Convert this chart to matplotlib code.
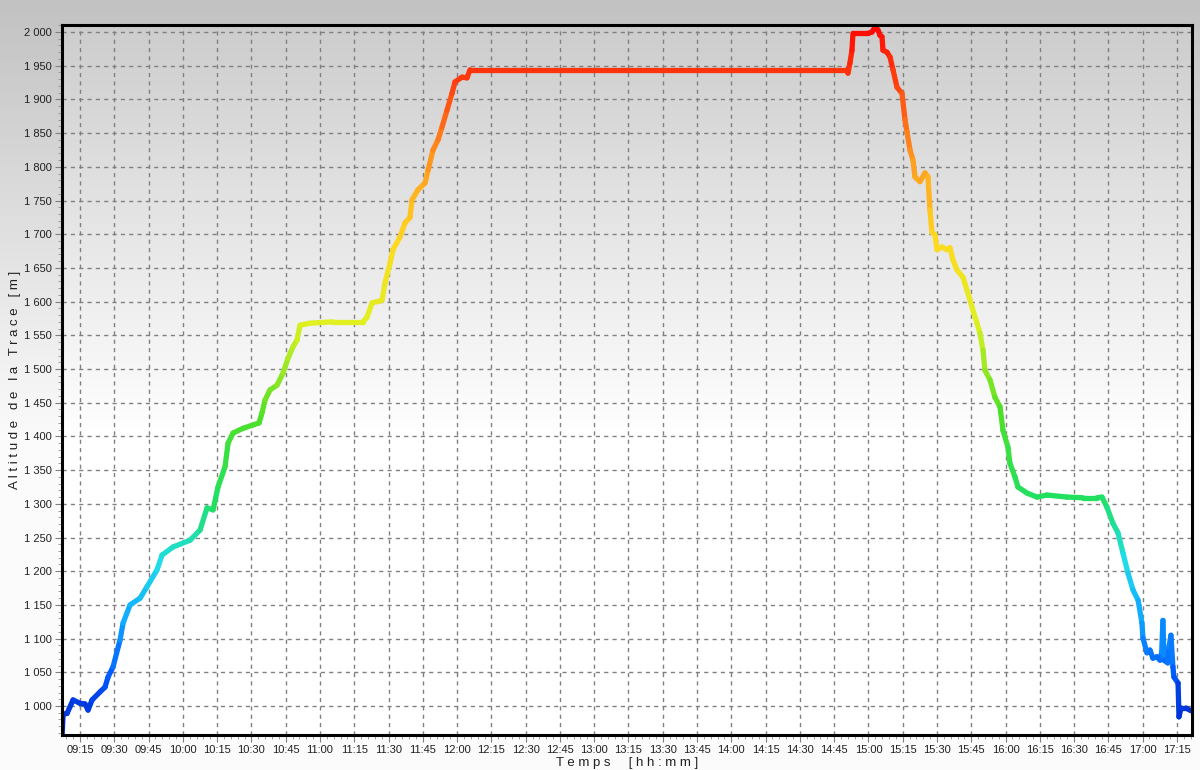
import numpy as np
import matplotlib
matplotlib.use("Agg")
import matplotlib.pyplot as plt
from matplotlib.collections import LineCollection
from matplotlib.colors import LinearSegmentedColormap, Normalize
from matplotlib.ticker import FuncFormatter, MultipleLocator

plt.rcParams['font.family'] = ['Liberation Sans', 'DejaVu Sans']

# track: time of day and altitude [m]
times = ["09:07:07", "09:07:34", "09:09:19", "09:11:56", "09:15:00", "09:17:11", "09:18:30",
         "09:20:15", "09:23:45", "09:25:56", "09:27:15", "09:29:26", "09:32:30", "09:33:49",
         "09:36:53", "09:41:15", "09:44:19", "09:48:41", "09:50:53", "09:55:42", "10:03:08",
         "10:07:30", "10:10:34", "10:13:12", "10:15:23", "10:18:27", "10:19:46", "10:21:57",
         "10:26:19", "10:30:42", "10:33:19", "10:34:38", "10:35:57", "10:38:08", "10:41:12",
         "10:43:50", "10:46:01", "10:48:12", "10:49:57", "10:51:16", "10:55:38", "11:05:42",
         "11:18:50", "11:20:35", "11:22:46", "11:27:09", "11:28:28", "11:30:39", "11:31:58",
         "11:35:02", "11:37:13", "11:39:24", "11:40:16", "11:42:54", "11:45:58", "11:47:17",
         "11:49:28", "11:51:39", "11:53:24", "11:55:35", "11:57:46", "11:59:05", "12:02:09",
         "12:04:20", "12:05:39", "14:50:37", "14:51:03", "14:51:55", "14:52:48", "14:53:14",
         "14:59:48", "15:01:33", "15:02:52", "15:04:11", "15:05:03", "15:05:56", "15:06:22",
         "15:08:07", "15:09:26", "15:10:45", "15:12:30", "15:14:41", "15:16:00", "15:16:52",
         "15:18:11", "15:19:30", "15:20:22", "15:22:33", "15:24:45", "15:26:04", "15:26:56",
         "15:27:48", "15:29:07", "15:30:00", "15:32:11", "15:34:22", "15:35:41", "15:37:00",
         "15:38:45", "15:41:24", "15:43:08", "15:45:19", "15:47:30", "15:48:49", "15:50:08",
         "15:51:00", "15:53:11", "15:55:22", "15:57:34", "15:58:53", "16:01:04", "16:01:56",
         "16:04:07", "16:05:26", "16:09:22", "16:13:45", "16:18:08", "16:26:53", "16:33:53",
         "16:40:00", "16:42:12", "16:44:23", "16:47:00", "16:49:12", "16:51:24", "16:53:36",
         "16:55:48", "16:58:00", "16:59:42", "17:00:08", "17:01:53", "17:03:12", "17:04:30",
         "17:06:15", "17:07:36", "17:08:20", "17:08:53", "17:09:19", "17:11:00", "17:11:30",
         "17:12:23", "17:13:15", "17:13:42", "17:15:30", "17:15:54", "17:16:48", "17:19:00",
         "17:21:07"]
altitude = [955, 988, 989, 1009, 1004, 1003, 994,
            1009, 1021, 1028, 1043, 1058, 1098, 1123,
            1150, 1160, 1177, 1202, 1224, 1236, 1246,
            1261, 1294, 1291, 1325, 1355, 1390, 1405,
            1412, 1417, 1420, 1435, 1454, 1469, 1476,
            1494, 1516, 1533, 1543, 1565, 1568, 1570,
            1570, 1577, 1598, 1602, 1628, 1657, 1677,
            1696, 1717, 1725, 1751, 1766, 1776, 1795,
            1825, 1840, 1859, 1884, 1909, 1926, 1933,
            1932, 1944, 1944, 1939, 1954, 1973, 1998,
            1998, 2000, 2007, 2003, 1995, 1993, 1973,
            1970, 1963, 1944, 1918, 1909, 1870, 1852,
            1825, 1810, 1785, 1778, 1791, 1785, 1736,
            1703, 1699, 1677, 1681, 1677, 1680, 1662,
            1647, 1636, 1617, 1592, 1568, 1553, 1528,
            1498, 1484, 1458, 1444, 1409, 1384, 1360,
            1340, 1325, 1316, 1310, 1313, 1310, 1309,
            1309, 1310, 1295, 1271, 1257, 1227, 1197,
            1172, 1157, 1123, 1101, 1079, 1083, 1071,
            1073, 1068, 1080, 1127, 1068, 1064, 1088,
            1105, 1058, 1043, 1034, 984, 997, 997,
            993]


def to_minutes(s):
    h, m, sec = s.split(":")
    return int(h) * 60 + int(m) + int(sec) / 60.0


t = np.array([to_minutes(s) for s in times])
alt = np.array(altitude, dtype=float)

cmap = LinearSegmentedColormap.from_list("trace", [
    (0.00, "#0020c0"), (0.08, "#0058ff"), (0.16, "#10a8ff"), (0.24, "#20dde8"),
    (0.33, "#20e060"), (0.45, "#50e028"), (0.58, "#e0f020"), (0.70, "#ffd820"),
    (0.80, "#ffa020"), (0.92, "#ff4010"), (1.00, "#ff0800")])
norm = Normalize(vmin=960, vmax=2010)

fig = plt.figure(figsize=(12, 7.7), dpi=100)

# figure background gradient
bg = fig.add_axes([0, 0, 1, 1], zorder=-10)
yy = np.linspace(0, 1, 200)  # 0 = bottom
g = np.clip((yy - 0.43) / 0.57, 0, 1)[:, None] * np.ones((1, 2))
bg.imshow(g, cmap=LinearSegmentedColormap.from_list("bg", ["#fbfbfb", "#c2c2c2"]),
          origin="lower", extent=[0, 1, 0, 1], aspect="auto", vmin=0, vmax=1)
bg.set_axis_off()

ax = fig.add_axes([62 / 1200, 35 / 770, 1130 / 1200, 710 / 770])
ax.patch.set_alpha(0)
ga = np.clip((yy - 0.42) / 0.58, 0, 1)[:, None] * np.ones((1, 2))
ax.imshow(ga, cmap=LinearSegmentedColormap.from_list("bga", ["#ffffff", "#cdcdcd"]),
          origin="lower", extent=[0, 1, 0, 1], aspect="auto", vmin=0, vmax=1,
          transform=ax.transAxes, zorder=0)

pts = np.column_stack([t, alt]).reshape(-1, 1, 2)
segs = np.concatenate([pts[:-1], pts[1:]], axis=1)
lc = LineCollection(segs, cmap=cmap, norm=norm, linewidths=3.8, capstyle="round",
                    joinstyle="round", zorder=3)
lc.set_array((alt[:-1] + alt[1:]) / 2)
ax.add_collection(lc)

ax.set_xlim(547.1, 1041.6)
ax.set_ylim(957, 2010.4)
ax.set_aspect("auto")

ax.xaxis.set_major_locator(MultipleLocator(15))
ax.xaxis.set_minor_locator(MultipleLocator(3))
ax.yaxis.set_major_locator(MultipleLocator(50))
ax.yaxis.set_minor_locator(MultipleLocator(10))
ax.xaxis.set_major_formatter(FuncFormatter(lambda v, p: "%02d:%02d" % (int(round(v)) // 60, int(round(v)) % 60)))
ax.yaxis.set_major_formatter(FuncFormatter(lambda v, p: "{:,}".format(int(round(v))).replace(",", " ")))

ax.grid(True, which="major", color="#808080", linestyle=(0, (3, 3)), linewidth=1, zorder=1)
ax.tick_params(axis="both", which="major", direction="out", length=5, color="#808080",
               labelsize=8, labelcolor="#202020", pad=2.5)
ax.tick_params(axis="both", which="minor", direction="out", length=3, color="#909090")
for side in ax.spines.values():
    side.set_linewidth(2.2)
    side.set_color("black")
    side.set_zorder(5)

ax.set_xlabel("T e m p s     [ h h : m m ]", fontsize=9.5, color="#202020")
ax.set_ylabel("A l t i t u d e   d e   l a   T r a c e   [ m ]", fontsize=9.5,
              color="#202020")
ax.xaxis.set_label_coords(0.5, -0.039)
ax.yaxis.set_label_coords(-0.042, 0.5)
ax.xaxis.label.set_va("center")
ax.yaxis.label.set_va("center")

fig.savefig("out.png", dpi=100)
